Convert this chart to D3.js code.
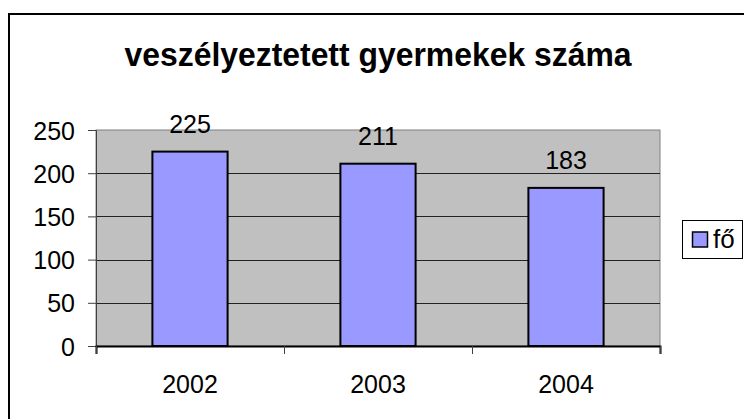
<!DOCTYPE html>
<html>
<head>
    <meta charset="utf-8" />
    <title>veszélyeztetett gyermekek száma</title>
    <script src="https://d3js.org/d3.v7.min.js"></script>
    <style>
        body { margin: 0; background: #fff; }
        svg { display: block; font-family: Arial, "Liberation Sans", sans-serif; }
    </style>
</head>
<body>
    <div id="content"></div>
    <script>
        var w = 744,
            h = 419;

        var title = "veszélyeztetett gyermekek száma";
        var years = ["2002", "2003", "2004"];
        var values = [225, 211, 183];
        var seriesName = "fő";
        var yTicks = [0, 50, 100, 150, 200, 250];

        var plot = { left: 96, right: 660, top: 130, bottom: 346 };

        var svg = d3.select("#content").append("svg")
            .attr("width", w)
            .attr("height", h);

        // chart area border (runs off the right and bottom edge)
        svg.append("rect")
            .attr("x", 10).attr("y", 15)
            .attr("width", 800).attr("height", 500)
            .attr("fill", "none").attr("stroke", "#999").attr("stroke-width", 1);
        svg.append("rect")
            .attr("x", 9).attr("y", 14)
            .attr("width", 800).attr("height", 500)
            .attr("fill", "#fff").attr("stroke", "#000").attr("stroke-width", 2);

        svg.append("text")
            .attr("x", 378).attr("y", 66)
            .attr("text-anchor", "middle")
            .attr("font-size", "34px")
            .attr("font-weight", "bold")
            .attr("textLength", 507)
            .attr("lengthAdjust", "spacingAndGlyphs")
            .text(title);

        var x = d3.scaleBand()
            .domain(years)
            .range([plot.left, plot.right])
            .paddingInner(0.6)
            .paddingOuter(0.3);

        var y = d3.scaleLinear()
            .domain([0, 250])
            .range([plot.bottom, plot.top]);

        // plot area
        svg.append("rect")
            .attr("x", plot.left).attr("y", plot.top)
            .attr("width", plot.right - plot.left)
            .attr("height", plot.bottom - plot.top)
            .attr("fill", "#c0c0c0")
            .attr("stroke", "#808080")
            .attr("stroke-width", 1);

        // gridlines
        svg.selectAll("line.grid")
            .data(yTicks.filter(function(d) { return d > 0 && d < 250; }))
            .enter()
            .append("line")
            .attr("class", "grid")
            .attr("x1", plot.left).attr("x2", plot.right)
            .attr("y1", function(d) { return Math.round(y(d)) + 0.5; })
            .attr("y2", function(d) { return Math.round(y(d)) + 0.5; })
            .attr("stroke", "#222")
            .attr("stroke-width", 1);

        // bars
        svg.selectAll("rect.bar")
            .data(values)
            .enter()
            .append("rect")
            .attr("class", "bar")
            .attr("x", function(d, i) { return x(years[i]); })
            .attr("y", function(d) { return y(d); })
            .attr("width", x.bandwidth())
            .attr("height", function(d) { return plot.bottom - y(d); })
            .attr("fill", "#9999ff")
            .attr("stroke", "#000")
            .attr("stroke-width", 2);

        // value labels
        svg.selectAll("text.val")
            .data(values)
            .enter()
            .append("text")
            .attr("class", "val")
            .attr("x", function(d, i) { return x(years[i]) + x.bandwidth() / 2; })
            .attr("y", function(d) { return y(d) - 19; })
            .attr("text-anchor", "middle")
            .attr("font-size", "25px")
            .text(function(d) { return d; });

        // y axis
        var yAxis = d3.axisLeft(y)
            .tickValues(yTicks)
            .tickSize(8)
            .tickPadding(13);
        var gy = svg.append("g")
            .attr("transform", "translate(" + plot.left + ",0)")
            .call(yAxis);
        gy.select(".domain").attr("stroke", "#404040");
        gy.selectAll(".tick line").attr("stroke", "#404040");
        gy.selectAll(".tick text")
            .attr("font-size", "25px")
            .attr("font-family", "Arial, 'Liberation Sans', sans-serif")
            .attr("fill", "#000")
            .attr("dy", "0.36em");

        // x axis: ticks between categories
        var xEdge = d3.scaleLinear().domain([0, years.length]).range([plot.left, plot.right]);
        var gx = svg.append("g")
            .attr("transform", "translate(0," + plot.bottom + ")")
            .call(d3.axisBottom(xEdge).ticks(years.length).tickSize(8).tickFormat(""));
        gx.select(".domain").attr("stroke", "#000").attr("stroke-width", 2);
        gx.selectAll(".tick line").attr("stroke", "#404040");

        svg.selectAll("text.cat")
            .data(years)
            .enter()
            .append("text")
            .attr("class", "cat")
            .attr("x", function(d) { return x(d) + x.bandwidth() / 2; })
            .attr("y", 393)
            .attr("text-anchor", "middle")
            .attr("font-size", "25px")
            .text(function(d) { return d; });

        // legend
        var lg = svg.append("g").attr("transform", "translate(682,220)");
        lg.append("rect")
            .attr("x", 0.5).attr("y", 0.5)
            .attr("width", 60).attr("height", 38)
            .attr("fill", "#fff").attr("stroke", "#000");
        lg.append("rect")
            .attr("x", 10.5).attr("y", 12)
            .attr("width", 15).attr("height", 15)
            .attr("fill", "#9999ff").attr("stroke", "#000").attr("stroke-width", 1.5);
        lg.append("text")
            .attr("x", 31).attr("y", 28)
            .attr("font-size", "26px")
            .text(seriesName);
    </script>
</body>
</html>
